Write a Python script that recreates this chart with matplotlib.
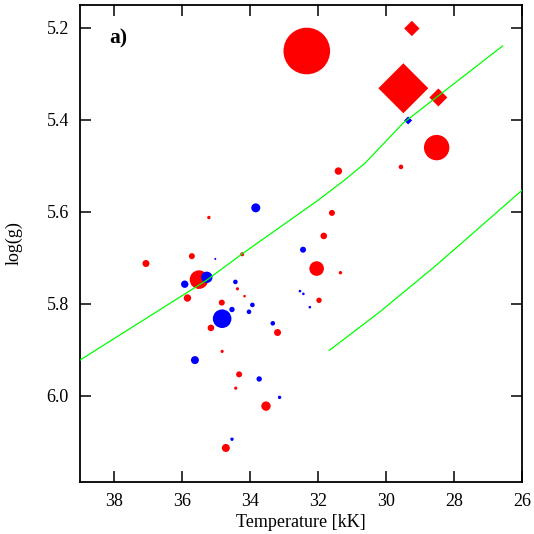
import matplotlib
matplotlib.use("Agg")
import matplotlib.pyplot as plt

# --- DATOS ---
# estrellas (circulos): temperatura [kK], log(g), radio del simbolo (px), color
temp_circ = [37.06, 33.83, 35.21, 35.71, 35.02, 34.23, 35.50, 35.27, 35.92, 35.84,
             34.43, 34.37, 34.16, 33.93, 34.03, 34.83, 34.53, 34.82, 35.15, 34.82,
             35.62, 31.40, 29.56, 31.59, 31.83, 32.44, 32.04, 31.34, 32.53, 32.43,
             31.97, 32.24, 33.33, 33.19, 34.32, 33.73, 34.42, 33.13, 33.53, 34.53,
             34.71, 32.33, 28.51]
logg_circ = [5.712, 5.591, 5.612, 5.696, 5.702, 5.692, 5.747, 5.742, 5.757, 5.787,
             5.752, 5.767, 5.783, 5.802, 5.817, 5.797, 5.812, 5.832, 5.852, 5.903,
             5.922, 5.511, 5.502, 5.602, 5.652, 5.682, 5.723, 5.732, 5.772, 5.778,
             5.792, 5.807, 5.842, 5.862, 5.953, 5.963, 5.983, 6.003, 6.022, 6.094,
             6.113, 5.250, 5.460]
radio_circ = [3.5, 4.5, 1.7, 3.0, 1.0, 2.0, 9.3, 5.7, 3.7, 3.7,
              2.3, 1.6, 1.3, 2.3, 2.3, 3.0, 2.7, 9.3, 3.3, 1.6,
              4.0, 3.7, 2.3, 3.0, 3.3, 3.0, 7.3, 1.7, 1.3, 1.3,
              2.7, 1.3, 2.3, 3.5, 3.0, 2.7, 1.6, 1.7, 4.7, 1.7,
              4.0, 23.3, 12.7]
color_circ = ['r', 'b', 'r', 'r', 'b', 'r', 'r', 'b', 'b', 'r',
              'b', 'r', 'r', 'b', 'b', 'r', 'b', 'b', 'r', 'r',
              'b', 'r', 'r', 'r', 'r', 'b', 'r', 'r', 'b', 'b',
              'r', 'b', 'b', 'r', 'r', 'b', 'r', 'b', 'r', 'b',
              'r', 'r', 'r']

# diamantes
temp_diam = [29.24, 29.49, 28.46, 29.35]
logg_diam = [5.201, 5.331, 5.351, 5.401]
radio_diam = [7.7, 25.0, 9.0, 4.0]
color_diam = ['r', 'r', 'r', 'b']

# lineas verdes
temp_linea1 = [39.0, 35.27, 34.23, 31.99, 31.21, 30.62, 29.5, 26.57]
logg_linea1 = [5.922, 5.748, 5.691, 5.574, 5.530, 5.494, 5.407, 5.239]
temp_linea2 = [31.67, 30.18, 28.51, 26.08, 26.0]
logg_linea2 = [5.901, 5.817, 5.715, 5.558, 5.553]

COLORES = {'r': '#ff0000', 'b': '#0000ff'}

plt.rcParams['font.family'] = ['Liberation Serif', 'DejaVu Serif']

fig = plt.figure(figsize=(5.34, 5.34), dpi=100)
ax = fig.add_axes([80 / 534, 52 / 534, 442 / 534, 477 / 534])

# pintar rojos primero y azules encima
for c in ['r', 'b']:
    xs = [t for t, k in zip(temp_circ, color_circ) if k == c]
    ys = [g for g, k in zip(logg_circ, color_circ) if k == c]
    ss = [(1.44 * r) ** 2 for r, k in zip(radio_circ, color_circ) if k == c]
    ax.scatter(xs, ys, s=ss, c=COLORES[c], marker='o', edgecolors='none', zorder=2)
    xs = [t for t, k in zip(temp_diam, color_diam) if k == c]
    ys = [g for g, k in zip(logg_diam, color_diam) if k == c]
    ss = [(1.018 * r) ** 2 for r, k in zip(radio_diam, color_diam) if k == c]
    ax.scatter(xs, ys, s=ss, c=COLORES[c], marker='D', edgecolors='none', zorder=2)

ax.plot(temp_linea1, logg_linea1, color='#00ff00', lw=0.9, zorder=3)
ax.plot(temp_linea2, logg_linea2, color='#00ff00', lw=0.9, zorder=3)

ax.set_xlim(39, 26)
ax.set_ylim(6.187, 5.15)
ax.set_xticks([38, 36, 34, 32, 30, 28, 26])
ax.set_yticks([5.2, 5.4, 5.6, 5.8, 6.0])
ax.set_yticklabels(['5.2', '5.4', '5.6', '5.8', '6.0'])

ax.tick_params(direction='in', length=7.7, width=1.1, labelsize=13,
               top=True, right=True, pad=8)
for sp in ax.spines.values():
    sp.set_linewidth(1.3)

ax.set_xlabel("Temperature [kK]", fontsize=13, labelpad=3)
ax.set_ylabel("log(g)", fontsize=13, labelpad=17)
ax.text((109 - 80) / 442, 1 - (38 - 5) / 477, "a)", fontsize=15.5, fontweight='bold',
        va='center', ha='left', transform=ax.transAxes)

fig.savefig("out.png", dpi=100)
